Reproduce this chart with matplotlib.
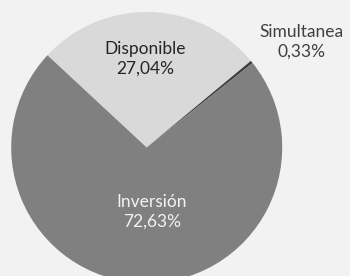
import matplotlib.pyplot as plt

# Reparto del patrimonio
labels = ['Disponible', 'Simultanea', 'Inversión']
values = [27.04, 0.33, 72.63]
colors = ['#d9d9d9', '#404040', '#808080']
text_colors = ['#262626', '#404040', '#f2f2f2']

plt.rcParams['font.family'] = ['Lato', 'DejaVu Sans']

fig = plt.figure(figsize=(3.5, 2.76), dpi=100, facecolor='#f2f2f2')
ax = fig.add_axes([0, 0, 1, 1])
ax.set_facecolor('#f2f2f2')

wedges, _ = ax.pie(values, colors=colors, startangle=137.1, counterclock=False,
                   center=(146.7, 128.5), radius=135.5,
                   wedgeprops=dict(linewidth=0), frame=True)
ax.set_xlim(0, 350)
ax.set_ylim(0, 276)
ax.set_aspect('equal')
ax.axis('off')

# label positions (pixels from the top-left corner)
label_pos = [(145, 59), (301, 42), (152, 212)]
for lab, val, tc, (x, y) in zip(labels, values, text_colors, label_pos):
    ax.text(x, 276 - y, lab + '\n' + ('%.2f%%' % val).replace('.', ','),
            ha='center', va='center', color=tc, fontsize=12.5, linespacing=1.3)

fig.savefig('out.png', dpi=100, facecolor='#f2f2f2')
